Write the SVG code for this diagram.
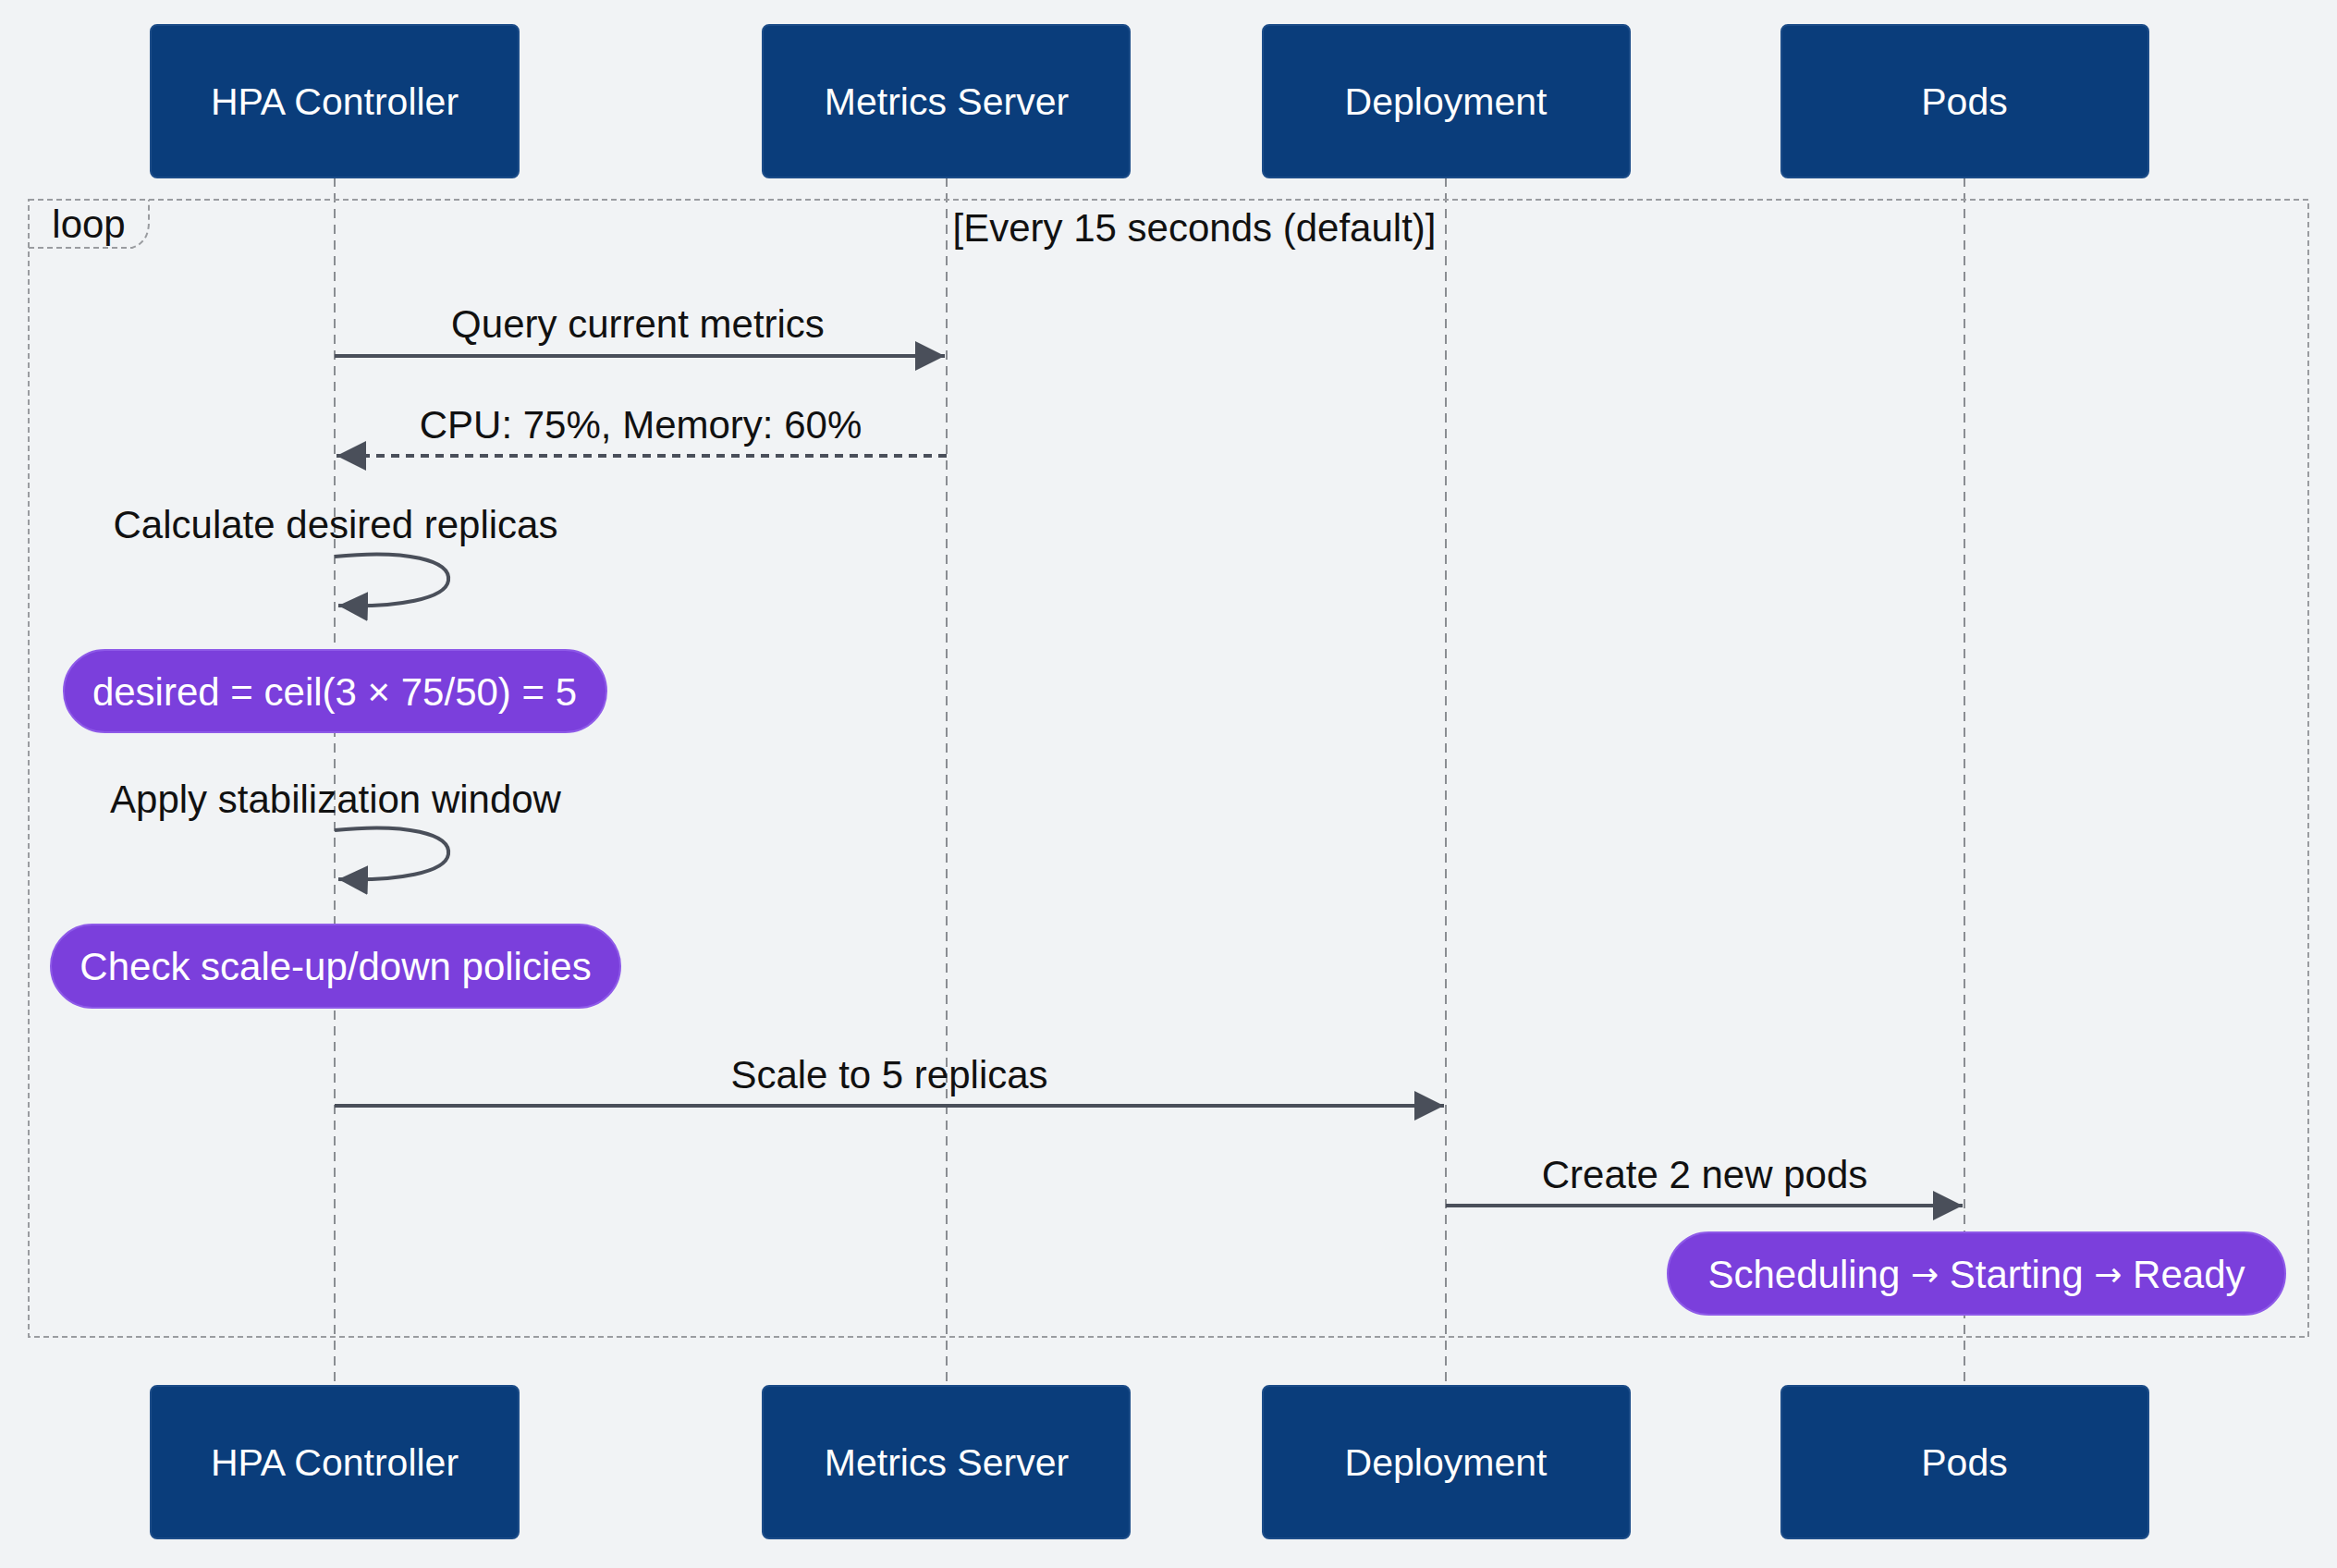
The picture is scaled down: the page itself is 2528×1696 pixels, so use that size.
<svg xmlns="http://www.w3.org/2000/svg" width="2528" height="1696" viewBox="0 0 2528 1696">
<style>
.bg{fill:#f1f3f5}
.actor rect{fill:#0a3d7b;stroke:#1c4c88;stroke-width:2}
.actor text{fill:#ffffff;font-family:"Liberation Sans",Arial,sans-serif;font-size:41px;text-anchor:middle;dominant-baseline:central}
.life{stroke:#8a8d92;stroke-width:2;stroke-dasharray:10 7;fill:none}
.frame{fill:none;stroke:#9a9ca0;stroke-width:2;stroke-dasharray:6 4}
.lbl{fill:#111;font-family:"Liberation Sans",Arial,sans-serif;font-size:42px;text-anchor:middle}
.msg{stroke:#4a4f5a;stroke-width:4;fill:none}
.dash{stroke-dasharray:9 7}
.note rect{fill:#7b3fdc;stroke:#8e5ae8;stroke-width:2}
.note text{fill:#ffffff;font-family:"Liberation Sans",Arial,sans-serif;font-size:42px;text-anchor:middle;dominant-baseline:central}
.arr{font-family:"DejaVu Sans",sans-serif;font-size:36px}
</style>
<defs>
<marker id="ahs" viewBox="0 0 10 10" refX="10" refY="5" markerWidth="8" markerHeight="8" orient="auto">
<path d="M0,0 L10,5 L0,10 z" fill="#4a4f5a"/>
</marker>
</defs>
<rect class="bg" x="0" y="0" width="2528" height="1696"/>

<g id="lifelines">
<line class="life" x1="362" y1="192" x2="362" y2="1499"/>
<line class="life" x1="1024" y1="192" x2="1024" y2="1499"/>
<line class="life" x1="1564" y1="192" x2="1564" y2="1499"/>
<line class="life" x1="2125" y1="192" x2="2125" y2="1499"/>
</g>

<g id="loop-frame">
<rect class="frame" x="31" y="216" width="2466" height="1230"/>
<path class="frame" d="M31,268 L143,268 Q161,262 161,240 L161,216"/>
<text class="lbl" x="96" y="257">loop</text>
<text class="lbl" x="1292" y="261">[Every 15 seconds (default)]</text>
</g>

<g id="connectors">
<line class="msg" x1="362" y1="385" x2="1022" y2="385" marker-end="url(#ahs)"/>
<line class="msg dash" x1="1024" y1="493" x2="364" y2="493" marker-end="url(#ahs)"/>
<path class="msg" d="M362,602 C440,594 488,606 485,628 C482,648 430,657 366,655" marker-end="url(#ahs)"/>
<path class="msg" d="M362,898 C440,890 488,902 485,924 C482,944 430,953 366,951" marker-end="url(#ahs)"/>
<line class="msg" x1="362" y1="1196" x2="1562" y2="1196" marker-end="url(#ahs)"/>
<line class="msg" x1="1564" y1="1304" x2="2123" y2="1304" marker-end="url(#ahs)"/>
</g>

<g id="labels">
<text class="lbl" x="690" y="365">Query current metrics</text>
<text class="lbl" x="693" y="474">CPU: 75%, Memory: 60%</text>
<text class="lbl" x="363" y="582">Calculate desired replicas</text>
<text class="lbl" x="363" y="879">Apply stabilization window</text>
<text class="lbl" x="962" y="1177">Scale to 5 replicas</text>
<text class="lbl" x="1844" y="1285">Create 2 new pods</text>
</g>

<g id="note-desired" class="note">
<rect x="69" y="703" width="587" height="89" rx="44.5"/>
<text x="362" y="748">desired = ceil(3 × 75/50) = 5</text>
</g>
<g id="note-policies" class="note">
<rect x="55" y="1000" width="616" height="90" rx="45"/>
<text x="363" y="1045">Check scale-up/down policies</text>
</g>
<g id="note-pods" class="note">
<rect x="1804" y="1333" width="668" height="89" rx="44.5"/>
<text x="2138" y="1378">Scheduling <tspan class="arr">→</tspan> Starting <tspan class="arr">→</tspan> Ready</text>
</g>

<g id="hpa-top" class="actor"><rect x="163" y="27" width="398" height="165" rx="7"/><text x="362" y="110">HPA Controller</text></g>
<g id="metrics-top" class="actor"><rect x="825" y="27" width="397" height="165" rx="7"/><text x="1024" y="110">Metrics Server</text></g>
<g id="deploy-top" class="actor"><rect x="1366" y="27" width="397" height="165" rx="7"/><text x="1564" y="110">Deployment</text></g>
<g id="pods-top" class="actor"><rect x="1927" y="27" width="397" height="165" rx="7"/><text x="2125" y="110">Pods</text></g>

<g id="hpa-bottom" class="actor"><rect x="163" y="1499" width="398" height="165" rx="7"/><text x="362" y="1582">HPA Controller</text></g>
<g id="metrics-bottom" class="actor"><rect x="825" y="1499" width="397" height="165" rx="7"/><text x="1024" y="1582">Metrics Server</text></g>
<g id="deploy-bottom" class="actor"><rect x="1366" y="1499" width="397" height="165" rx="7"/><text x="1564" y="1582">Deployment</text></g>
<g id="pods-bottom" class="actor"><rect x="1927" y="1499" width="397" height="165" rx="7"/><text x="2125" y="1582">Pods</text></g>
</svg>
